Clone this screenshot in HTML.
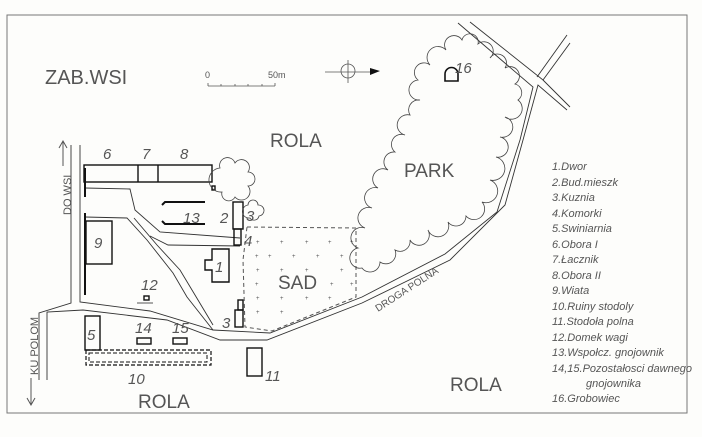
<!DOCTYPE html>
<html><head><meta charset="utf-8"><style>
html,body{margin:0;padding:0;background:#fdfdfb;}
svg{display:block}
text{font-family:"Liberation Sans",sans-serif;fill:#555;}
.lg{font-size:11px;font-style:italic;fill:#333;}
</style></head><body>
<svg width="702" height="437" viewBox="0 0 702 437" xmlns="http://www.w3.org/2000/svg">
<rect x="7" y="15" width="680" height="398" fill="none" stroke="#777" stroke-width="1"/>
<g fill="none" stroke="#333" stroke-width="0.9">
<path d="M71 145 L71 303 L39 313 L39 380"/>
<path d="M80 145 L80 302 L150 311 L213 330 L270 333 L362 297 L445 254 L497 212 L520 140 L533 87 L458 23"/>
<path d="M47 380 L47 312 L83 310 L167 320 L220 340 L267 340 L362 303 L450 260 L505 205 L523 140 L538 85 L567 110"/>
<path d="M470 22 L543 80 L570 43"/>
<path d="M567 35 L537 77 M543 80 L570 107"/>
<path d="M85 188 L130 189 L135 210 L160 232 L240 238"/>
<path d="M85 217 L127 218 L147 240 L173 273 L187 297 L213 330"/>
<path d="M134 218 L157 245 L180 270 L195 295 L213 325"/>
<path d="M150 236 L168 245 L240 246"/>
</g>
<g fill="none" stroke="#111" stroke-width="1.4">
<rect x="84" y="165" width="128" height="17"/>
<line x1="138" y1="165" x2="138" y2="182"/><line x1="158" y1="165" x2="158" y2="182"/>
<rect x="86" y="221" width="26" height="43"/>
<rect x="233" y="202" width="10" height="27"/>
<rect x="234" y="229" width="7" height="16"/>
<path d="M212 249 H229 V282 H212 V270 H205 V260 H212 Z"/>
<rect x="235" y="310" width="8" height="17"/><rect x="238" y="300" width="5" height="10"/>
<rect x="85" y="316" width="15" height="34"/>
<rect x="137" y="338" width="14" height="6"/><rect x="173" y="338" width="14" height="6"/>
<rect x="144" y="296" width="5" height="4"/>
<rect x="247" y="348" width="15" height="28"/>
<rect x="212" y="186" width="3" height="4"/>
<path d="M205 202 H165 L162 205 M205 224 H165 L162 221" stroke-width="2"/>
<line x1="85" y1="213" x2="85" y2="295" stroke-width="2"/>
<line x1="85" y1="168" x2="85" y2="197" stroke-width="2"/>
</g>
<line x1="137" y1="303" x2="153" y2="303" stroke="#555"/>
<rect x="86" y="350" width="125" height="15" fill="none" stroke="#111" stroke-width="1.2" stroke-dasharray="4 2"/>
<rect x="89" y="353" width="118" height="9" fill="none" stroke="#111" stroke-width="1" stroke-dasharray="4 2"/>
<path d="M247 227 L356 228 L356 297 L272 331 L245 327 L243 260 Z" fill="none" stroke="#555" stroke-dasharray="4 3"/>
<g fill="#666" font-size="6">
<text x="256" y="244">+</text><text x="280" y="244">+</text><text x="305" y="244">+</text><text x="328" y="244">+</text><text x="350" y="244">+</text>
<text x="255" y="258">+</text><text x="268" y="258">+</text><text x="292" y="258">+</text><text x="316" y="258">+</text><text x="340" y="258">+</text>
<text x="256" y="272">+</text><text x="280" y="272">+</text><text x="305" y="272">+</text><text x="340" y="272">+</text>
<text x="255" y="286">+</text><text x="330" y="286">+</text><text x="350" y="286">+</text>
<text x="256" y="300">+</text><text x="280" y="300">+</text><text x="305" y="300">+</text><text x="328" y="300">+</text>
<text x="256" y="314">+</text><text x="280" y="314">+</text>
</g>
<g fill="none" stroke="#444" stroke-width="0.8">
<path d="M220 168 A7 7 0 0 1 235 163 A7 7 0 0 1 248 172 A6 6 0 0 1 248 186 A7 7 0 0 1 235 197 A7 7 0 0 1 222 192 A7 7 0 0 1 220 168 Z"/>
<path d="M248 205 A5 5 0 0 1 258 205 A5 5 0 0 1 259 216 A5 5 0 0 1 250 218 A5 5 0 0 1 248 205 Z"/>
<path d="M362 268 A10 10 0 0 1 358 248 A10 10 0 0 1 365 228 A10 10 0 0 1 372 208 A10 10 0 0 1 378 188 A10 10 0 0 1 388 170 A10 10 0 0 1 395 152 A10 10 0 0 1 405 135 A10 10 0 0 1 410 115 A10 10 0 0 1 420 100 A10 10 0 0 1 418 80 A8 8 0 0 1 430 65 A8 8 0 0 1 446 50 A8 8 0 0 1 462 40 A8 8 0 0 1 478 44 A9 9 0 0 1 490 58 A9 9 0 0 1 505 68 A9 9 0 0 1 515 84 A9 9 0 0 1 518 100 A10 10 0 0 1 505 117 A10 10 0 0 1 500 137 A10 10 0 0 1 496 157 A10 10 0 0 1 490 180 A10 10 0 0 1 482 202 A10 10 0 0 1 466 216 A10 10 0 0 1 448 222 A10 10 0 0 1 428 230 A10 10 0 0 1 410 240 A10 10 0 0 1 395 250 A10 10 0 0 1 380 262 A10 10 0 0 1 362 268 Z"/>
</g>
<path d="M445 81 V74 A6.5 6.5 0 0 1 458 74 V81 Z" fill="none" stroke="#111" stroke-width="1.6"/>
<g stroke="#555" fill="none" stroke-width="0.8">
<path d="M208 86 V83 M208 86 H275 M221 86 V84 M235 86 V84 M248 86 V84 M262 86 V84 M275 86 V83"/>
<circle cx="348" cy="71" r="7"/>
<path d="M325 72 H372 M348 60 V83"/>
</g>
<path d="M370 68 L380 71 L370 75 Z" fill="#111"/>
<text x="205" y="78" font-size="9">0</text><text x="268" y="78" font-size="9">50m</text>
<g fill="#666">
<text x="45" y="84" font-size="20">ZAB.WSI</text>
<text x="270" y="147" font-size="19">ROLA</text>
<text x="404" y="177" font-size="19">PARK</text>
<text x="278" y="289" font-size="19">SAD</text>
<text x="138" y="408" font-size="19">ROLA</text>
<text x="450" y="391" font-size="19">ROLA</text>
</g>
<g font-size="15" font-style="italic" fill="#555">
<text x="103" y="159">6</text><text x="142" y="159">7</text><text x="180" y="159">8</text>
<text x="94" y="248">9</text><text x="183" y="223">13</text><text x="220" y="223">2</text>
<text x="246" y="221">3</text><text x="244" y="246">4</text><text x="215" y="272">1</text>
<text x="141" y="290">12</text><text x="222" y="328">3</text><text x="87" y="340">5</text>
<text x="135" y="333">14</text><text x="172" y="333">15</text><text x="128" y="384">10</text>
<text x="265" y="381">11</text><text x="455" y="73">16</text>
</g>
<text transform="translate(71,215) rotate(-90)" font-size="11">DO WSI</text>
<text transform="translate(38,375) rotate(-90)" font-size="11">KU POLOM</text>
<text transform="translate(378,312) rotate(-33)" font-size="10">DROGA POLNA</text>
<path d="M63 166 V141 M59 148 L63 141 L67 148" stroke="#555" fill="none"/>
<path d="M31 378 V405 M27 398 L31 405 L35 398" stroke="#555" fill="none"/>
<g class="lg">
<text x="552" y="170">1.Dwor</text>
<text x="552" y="186">2.Bud.mieszk</text>
<text x="552" y="201">3.Kuznia</text>
<text x="552" y="217">4.Komorki</text>
<text x="552" y="232">5.Swiniarnia</text>
<text x="552" y="248">6.Obora I</text>
<text x="552" y="263">7.Łacznik</text>
<text x="552" y="279">8.Obora II</text>
<text x="552" y="294">9.Wiata</text>
<text x="552" y="310">10.Ruiny stodoly</text>
<text x="552" y="325">11.Stodoła polna</text>
<text x="552" y="341">12.Domek wagi</text>
<text x="552" y="356">13.Wspołcz. gnojownik</text>
<text x="552" y="372">14,15.Pozostałosci dawnego</text>
<text x="586" y="387">gnojownika</text>
<text x="552" y="402">16.Grobowiec</text>
</g>
</svg>
</body></html>
